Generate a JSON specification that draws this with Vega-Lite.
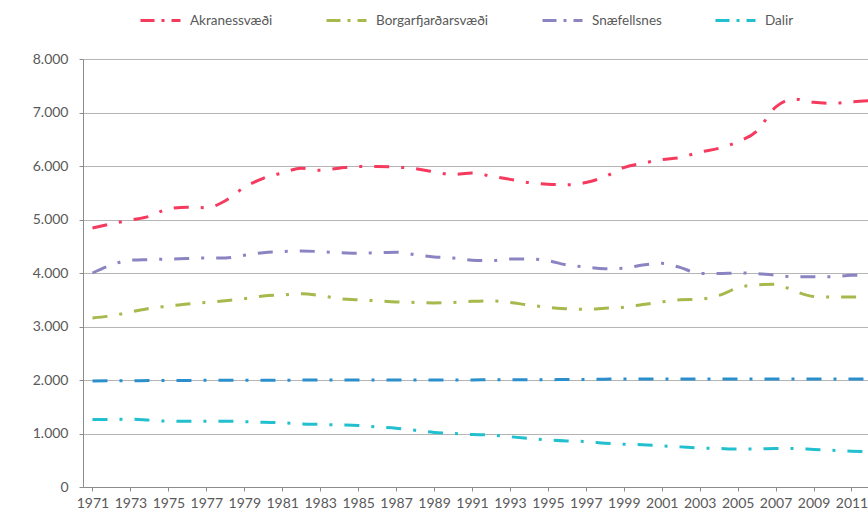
{
  "$schema": "https://vega.github.io/schema/vega-lite/v6.json",
  "width": 785,
  "height": 428,
  "autosize": "none",
  "padding": {"left": 83, "top": 59, "right": 0, "bottom": 30},
  "background": "white",
  "config": {
    "view": {"stroke": null},
    "font": "Lato",
    "axis": {"labelFont": "Lato", "labelFontSize": 14, "labelColor": "#595959", "titleFont": "Lato"},
    "legend": {"labelFont": "Lato", "labelFontSize": 13.5, "labelColor": "#595959"}
  },
  "data": {
    "values": [
      {"svaedi": "Akranessvæði", "ar": 1971, "ibuar": 4840},
      {"svaedi": "Akranessvæði", "ar": 1972, "ibuar": 4920},
      {"svaedi": "Akranessvæði", "ar": 1973, "ibuar": 4990},
      {"svaedi": "Akranessvæði", "ar": 1974, "ibuar": 5060},
      {"svaedi": "Akranessvæði", "ar": 1975, "ibuar": 5200},
      {"svaedi": "Akranessvæði", "ar": 1976, "ibuar": 5230},
      {"svaedi": "Akranessvæði", "ar": 1977, "ibuar": 5220},
      {"svaedi": "Akranessvæði", "ar": 1978, "ibuar": 5350},
      {"svaedi": "Akranessvæði", "ar": 1979, "ibuar": 5600},
      {"svaedi": "Akranessvæði", "ar": 1980, "ibuar": 5770},
      {"svaedi": "Akranessvæði", "ar": 1981, "ibuar": 5870},
      {"svaedi": "Akranessvæði", "ar": 1982, "ibuar": 5960},
      {"svaedi": "Akranessvæði", "ar": 1983, "ibuar": 5920},
      {"svaedi": "Akranessvæði", "ar": 1984, "ibuar": 5960},
      {"svaedi": "Akranessvæði", "ar": 1985, "ibuar": 5990},
      {"svaedi": "Akranessvæði", "ar": 1986, "ibuar": 5990},
      {"svaedi": "Akranessvæði", "ar": 1987, "ibuar": 5980},
      {"svaedi": "Akranessvæði", "ar": 1988, "ibuar": 5950},
      {"svaedi": "Akranessvæði", "ar": 1989, "ibuar": 5890},
      {"svaedi": "Akranessvæði", "ar": 1990, "ibuar": 5840},
      {"svaedi": "Akranessvæði", "ar": 1991, "ibuar": 5870},
      {"svaedi": "Akranessvæði", "ar": 1992, "ibuar": 5810},
      {"svaedi": "Akranessvæði", "ar": 1993, "ibuar": 5750},
      {"svaedi": "Akranessvæði", "ar": 1994, "ibuar": 5690},
      {"svaedi": "Akranessvæði", "ar": 1995, "ibuar": 5660},
      {"svaedi": "Akranessvæði", "ar": 1996, "ibuar": 5650},
      {"svaedi": "Akranessvæði", "ar": 1997, "ibuar": 5690},
      {"svaedi": "Akranessvæði", "ar": 1998, "ibuar": 5800},
      {"svaedi": "Akranessvæði", "ar": 1999, "ibuar": 5970},
      {"svaedi": "Akranessvæði", "ar": 2000, "ibuar": 6050},
      {"svaedi": "Akranessvæði", "ar": 2001, "ibuar": 6120},
      {"svaedi": "Akranessvæði", "ar": 2002, "ibuar": 6160},
      {"svaedi": "Akranessvæði", "ar": 2003, "ibuar": 6260},
      {"svaedi": "Akranessvæði", "ar": 2004, "ibuar": 6330},
      {"svaedi": "Akranessvæði", "ar": 2005, "ibuar": 6450},
      {"svaedi": "Akranessvæði", "ar": 2006, "ibuar": 6650},
      {"svaedi": "Akranessvæði", "ar": 2007, "ibuar": 7100},
      {"svaedi": "Akranessvæði", "ar": 2008, "ibuar": 7250},
      {"svaedi": "Akranessvæði", "ar": 2009, "ibuar": 7190},
      {"svaedi": "Akranessvæði", "ar": 2010, "ibuar": 7170},
      {"svaedi": "Akranessvæði", "ar": 2011, "ibuar": 7200},
      {"svaedi": "Akranessvæði", "ar": 2012, "ibuar": 7220},

      {"svaedi": "Borgarfjarðarsvæði", "ar": 1971, "ibuar": 3160},
      {"svaedi": "Borgarfjarðarsvæði", "ar": 1972, "ibuar": 3200},
      {"svaedi": "Borgarfjarðarsvæði", "ar": 1973, "ibuar": 3270},
      {"svaedi": "Borgarfjarðarsvæði", "ar": 1974, "ibuar": 3340},
      {"svaedi": "Borgarfjarðarsvæði", "ar": 1975, "ibuar": 3380},
      {"svaedi": "Borgarfjarðarsvæði", "ar": 1976, "ibuar": 3420},
      {"svaedi": "Borgarfjarðarsvæði", "ar": 1977, "ibuar": 3450},
      {"svaedi": "Borgarfjarðarsvæði", "ar": 1978, "ibuar": 3480},
      {"svaedi": "Borgarfjarðarsvæði", "ar": 1979, "ibuar": 3520},
      {"svaedi": "Borgarfjarðarsvæði", "ar": 1980, "ibuar": 3570},
      {"svaedi": "Borgarfjarðarsvæði", "ar": 1981, "ibuar": 3590},
      {"svaedi": "Borgarfjarðarsvæði", "ar": 1982, "ibuar": 3610},
      {"svaedi": "Borgarfjarðarsvæði", "ar": 1983, "ibuar": 3580},
      {"svaedi": "Borgarfjarðarsvæði", "ar": 1984, "ibuar": 3520},
      {"svaedi": "Borgarfjarðarsvæði", "ar": 1985, "ibuar": 3500},
      {"svaedi": "Borgarfjarðarsvæði", "ar": 1986, "ibuar": 3480},
      {"svaedi": "Borgarfjarðarsvæði", "ar": 1987, "ibuar": 3460},
      {"svaedi": "Borgarfjarðarsvæði", "ar": 1988, "ibuar": 3450},
      {"svaedi": "Borgarfjarðarsvæði", "ar": 1989, "ibuar": 3440},
      {"svaedi": "Borgarfjarðarsvæði", "ar": 1990, "ibuar": 3450},
      {"svaedi": "Borgarfjarðarsvæði", "ar": 1991, "ibuar": 3470},
      {"svaedi": "Borgarfjarðarsvæði", "ar": 1992, "ibuar": 3480},
      {"svaedi": "Borgarfjarðarsvæði", "ar": 1993, "ibuar": 3450},
      {"svaedi": "Borgarfjarðarsvæði", "ar": 1994, "ibuar": 3400},
      {"svaedi": "Borgarfjarðarsvæði", "ar": 1995, "ibuar": 3360},
      {"svaedi": "Borgarfjarðarsvæði", "ar": 1996, "ibuar": 3330},
      {"svaedi": "Borgarfjarðarsvæði", "ar": 1997, "ibuar": 3320},
      {"svaedi": "Borgarfjarðarsvæði", "ar": 1998, "ibuar": 3340},
      {"svaedi": "Borgarfjarðarsvæði", "ar": 1999, "ibuar": 3360},
      {"svaedi": "Borgarfjarðarsvæði", "ar": 2000, "ibuar": 3410},
      {"svaedi": "Borgarfjarðarsvæði", "ar": 2001, "ibuar": 3460},
      {"svaedi": "Borgarfjarðarsvæði", "ar": 2002, "ibuar": 3500},
      {"svaedi": "Borgarfjarðarsvæði", "ar": 2003, "ibuar": 3510},
      {"svaedi": "Borgarfjarðarsvæði", "ar": 2004, "ibuar": 3580},
      {"svaedi": "Borgarfjarðarsvæði", "ar": 2005, "ibuar": 3720},
      {"svaedi": "Borgarfjarðarsvæði", "ar": 2006, "ibuar": 3780},
      {"svaedi": "Borgarfjarðarsvæði", "ar": 2007, "ibuar": 3790},
      {"svaedi": "Borgarfjarðarsvæði", "ar": 2008, "ibuar": 3660},
      {"svaedi": "Borgarfjarðarsvæði", "ar": 2009, "ibuar": 3560},
      {"svaedi": "Borgarfjarðarsvæði", "ar": 2010, "ibuar": 3550},
      {"svaedi": "Borgarfjarðarsvæði", "ar": 2011, "ibuar": 3550},
      {"svaedi": "Borgarfjarðarsvæði", "ar": 2012, "ibuar": 3540},

      {"svaedi": "Snæfellsnes", "ar": 1971, "ibuar": 4000},
      {"svaedi": "Snæfellsnes", "ar": 1972, "ibuar": 4150},
      {"svaedi": "Snæfellsnes", "ar": 1973, "ibuar": 4240},
      {"svaedi": "Snæfellsnes", "ar": 1974, "ibuar": 4250},
      {"svaedi": "Snæfellsnes", "ar": 1975, "ibuar": 4260},
      {"svaedi": "Snæfellsnes", "ar": 1976, "ibuar": 4270},
      {"svaedi": "Snæfellsnes", "ar": 1977, "ibuar": 4280},
      {"svaedi": "Snæfellsnes", "ar": 1978, "ibuar": 4280},
      {"svaedi": "Snæfellsnes", "ar": 1979, "ibuar": 4330},
      {"svaedi": "Snæfellsnes", "ar": 1980, "ibuar": 4380},
      {"svaedi": "Snæfellsnes", "ar": 1981, "ibuar": 4400},
      {"svaedi": "Snæfellsnes", "ar": 1982, "ibuar": 4410},
      {"svaedi": "Snæfellsnes", "ar": 1983, "ibuar": 4400},
      {"svaedi": "Snæfellsnes", "ar": 1984, "ibuar": 4380},
      {"svaedi": "Snæfellsnes", "ar": 1985, "ibuar": 4370},
      {"svaedi": "Snæfellsnes", "ar": 1986, "ibuar": 4380},
      {"svaedi": "Snæfellsnes", "ar": 1987, "ibuar": 4390},
      {"svaedi": "Snæfellsnes", "ar": 1988, "ibuar": 4340},
      {"svaedi": "Snæfellsnes", "ar": 1989, "ibuar": 4300},
      {"svaedi": "Snæfellsnes", "ar": 1990, "ibuar": 4280},
      {"svaedi": "Snæfellsnes", "ar": 1991, "ibuar": 4240},
      {"svaedi": "Snæfellsnes", "ar": 1992, "ibuar": 4230},
      {"svaedi": "Snæfellsnes", "ar": 1993, "ibuar": 4260},
      {"svaedi": "Snæfellsnes", "ar": 1994, "ibuar": 4260},
      {"svaedi": "Snæfellsnes", "ar": 1995, "ibuar": 4230},
      {"svaedi": "Snæfellsnes", "ar": 1996, "ibuar": 4150},
      {"svaedi": "Snæfellsnes", "ar": 1997, "ibuar": 4110},
      {"svaedi": "Snæfellsnes", "ar": 1998, "ibuar": 4080},
      {"svaedi": "Snæfellsnes", "ar": 1999, "ibuar": 4090},
      {"svaedi": "Snæfellsnes", "ar": 2000, "ibuar": 4150},
      {"svaedi": "Snæfellsnes", "ar": 2001, "ibuar": 4180},
      {"svaedi": "Snæfellsnes", "ar": 2002, "ibuar": 4100},
      {"svaedi": "Snæfellsnes", "ar": 2003, "ibuar": 3990},
      {"svaedi": "Snæfellsnes", "ar": 2004, "ibuar": 3990},
      {"svaedi": "Snæfellsnes", "ar": 2005, "ibuar": 4000},
      {"svaedi": "Snæfellsnes", "ar": 2006, "ibuar": 3990},
      {"svaedi": "Snæfellsnes", "ar": 2007, "ibuar": 3960},
      {"svaedi": "Snæfellsnes", "ar": 2008, "ibuar": 3930},
      {"svaedi": "Snæfellsnes", "ar": 2009, "ibuar": 3930},
      {"svaedi": "Snæfellsnes", "ar": 2010, "ibuar": 3930},
      {"svaedi": "Snæfellsnes", "ar": 2011, "ibuar": 3960},
      {"svaedi": "Snæfellsnes", "ar": 2012, "ibuar": 3960},

      {"svaedi": "Annað", "ar": 1971, "ibuar": 1980},
      {"svaedi": "Annað", "ar": 1972, "ibuar": 1985},
      {"svaedi": "Annað", "ar": 1973, "ibuar": 1985},
      {"svaedi": "Annað", "ar": 1974, "ibuar": 1990},
      {"svaedi": "Annað", "ar": 1975, "ibuar": 1990},
      {"svaedi": "Annað", "ar": 1976, "ibuar": 1990},
      {"svaedi": "Annað", "ar": 1977, "ibuar": 1995},
      {"svaedi": "Annað", "ar": 1978, "ibuar": 1995},
      {"svaedi": "Annað", "ar": 1979, "ibuar": 1995},
      {"svaedi": "Annað", "ar": 1980, "ibuar": 1995},
      {"svaedi": "Annað", "ar": 1981, "ibuar": 1995},
      {"svaedi": "Annað", "ar": 1982, "ibuar": 2000},
      {"svaedi": "Annað", "ar": 1983, "ibuar": 2000},
      {"svaedi": "Annað", "ar": 1984, "ibuar": 2000},
      {"svaedi": "Annað", "ar": 1985, "ibuar": 2000},
      {"svaedi": "Annað", "ar": 1986, "ibuar": 2000},
      {"svaedi": "Annað", "ar": 1987, "ibuar": 2000},
      {"svaedi": "Annað", "ar": 1988, "ibuar": 2000},
      {"svaedi": "Annað", "ar": 1989, "ibuar": 2000},
      {"svaedi": "Annað", "ar": 1990, "ibuar": 2000},
      {"svaedi": "Annað", "ar": 1991, "ibuar": 2000},
      {"svaedi": "Annað", "ar": 1992, "ibuar": 2005},
      {"svaedi": "Annað", "ar": 1993, "ibuar": 2005},
      {"svaedi": "Annað", "ar": 1994, "ibuar": 2005},
      {"svaedi": "Annað", "ar": 1995, "ibuar": 2005},
      {"svaedi": "Annað", "ar": 1996, "ibuar": 2010},
      {"svaedi": "Annað", "ar": 1997, "ibuar": 2010},
      {"svaedi": "Annað", "ar": 1998, "ibuar": 2015},
      {"svaedi": "Annað", "ar": 1999, "ibuar": 2020},
      {"svaedi": "Annað", "ar": 2000, "ibuar": 2020},
      {"svaedi": "Annað", "ar": 2001, "ibuar": 2020},
      {"svaedi": "Annað", "ar": 2002, "ibuar": 2020},
      {"svaedi": "Annað", "ar": 2003, "ibuar": 2020},
      {"svaedi": "Annað", "ar": 2004, "ibuar": 2020},
      {"svaedi": "Annað", "ar": 2005, "ibuar": 2020},
      {"svaedi": "Annað", "ar": 2006, "ibuar": 2020},
      {"svaedi": "Annað", "ar": 2007, "ibuar": 2020},
      {"svaedi": "Annað", "ar": 2008, "ibuar": 2020},
      {"svaedi": "Annað", "ar": 2009, "ibuar": 2020},
      {"svaedi": "Annað", "ar": 2010, "ibuar": 2020},
      {"svaedi": "Annað", "ar": 2011, "ibuar": 2020},
      {"svaedi": "Annað", "ar": 2012, "ibuar": 2020},

      {"svaedi": "Dalir", "ar": 1971, "ibuar": 1260},
      {"svaedi": "Dalir", "ar": 1972, "ibuar": 1260},
      {"svaedi": "Dalir", "ar": 1973, "ibuar": 1270},
      {"svaedi": "Dalir", "ar": 1974, "ibuar": 1250},
      {"svaedi": "Dalir", "ar": 1975, "ibuar": 1230},
      {"svaedi": "Dalir", "ar": 1976, "ibuar": 1230},
      {"svaedi": "Dalir", "ar": 1977, "ibuar": 1230},
      {"svaedi": "Dalir", "ar": 1978, "ibuar": 1230},
      {"svaedi": "Dalir", "ar": 1979, "ibuar": 1220},
      {"svaedi": "Dalir", "ar": 1980, "ibuar": 1210},
      {"svaedi": "Dalir", "ar": 1981, "ibuar": 1200},
      {"svaedi": "Dalir", "ar": 1982, "ibuar": 1180},
      {"svaedi": "Dalir", "ar": 1983, "ibuar": 1170},
      {"svaedi": "Dalir", "ar": 1984, "ibuar": 1160},
      {"svaedi": "Dalir", "ar": 1985, "ibuar": 1150},
      {"svaedi": "Dalir", "ar": 1986, "ibuar": 1120},
      {"svaedi": "Dalir", "ar": 1987, "ibuar": 1100},
      {"svaedi": "Dalir", "ar": 1988, "ibuar": 1060},
      {"svaedi": "Dalir", "ar": 1989, "ibuar": 1020},
      {"svaedi": "Dalir", "ar": 1990, "ibuar": 1000},
      {"svaedi": "Dalir", "ar": 1991, "ibuar": 980},
      {"svaedi": "Dalir", "ar": 1992, "ibuar": 970},
      {"svaedi": "Dalir", "ar": 1993, "ibuar": 940},
      {"svaedi": "Dalir", "ar": 1994, "ibuar": 910},
      {"svaedi": "Dalir", "ar": 1995, "ibuar": 880},
      {"svaedi": "Dalir", "ar": 1996, "ibuar": 860},
      {"svaedi": "Dalir", "ar": 1997, "ibuar": 850},
      {"svaedi": "Dalir", "ar": 1998, "ibuar": 820},
      {"svaedi": "Dalir", "ar": 1999, "ibuar": 800},
      {"svaedi": "Dalir", "ar": 2000, "ibuar": 790},
      {"svaedi": "Dalir", "ar": 2001, "ibuar": 770},
      {"svaedi": "Dalir", "ar": 2002, "ibuar": 750},
      {"svaedi": "Dalir", "ar": 2003, "ibuar": 730},
      {"svaedi": "Dalir", "ar": 2004, "ibuar": 720},
      {"svaedi": "Dalir", "ar": 2005, "ibuar": 710},
      {"svaedi": "Dalir", "ar": 2006, "ibuar": 710},
      {"svaedi": "Dalir", "ar": 2007, "ibuar": 720},
      {"svaedi": "Dalir", "ar": 2008, "ibuar": 720},
      {"svaedi": "Dalir", "ar": 2009, "ibuar": 700},
      {"svaedi": "Dalir", "ar": 2010, "ibuar": 685},
      {"svaedi": "Dalir", "ar": 2011, "ibuar": 670},
      {"svaedi": "Dalir", "ar": 2012, "ibuar": 660}
    ]
  },
  "mark": {
    "type": "line",
    "interpolate": "monotone",
    "strokeWidth": 3,
    "strokeDash": [15, 12, 3, 12],
    "clip": true
  },
  "encoding": {
    "x": {
      "field": "ar",
      "type": "quantitative",
      "scale": {"domain": [1970.5, 2011.87], "nice": false, "zero": false},
      "axis": {
        "title": null,
        "values": [1971, 1973, 1975, 1977, 1979, 1981, 1983, 1985, 1987, 1989, 1991, 1993, 1995, 1997, 1999, 2001, 2003, 2005, 2007, 2009, 2011],
        "format": "d",
        "grid": false,
        "domainColor": "#8c8c8c",
        "tickColor": "#8c8c8c",
        "tickSize": 4,
        "labelPadding": 5,
        "labelOverlap": false,
        "labelFlush": false
      }
    },
    "y": {
      "field": "ibuar",
      "type": "quantitative",
      "scale": {"domain": [0, 8000], "nice": false},
      "axis": {
        "title": null,
        "values": [0, 1000, 2000, 3000, 4000, 5000, 6000, 7000, 8000],
        "labelExpr": "replace(format(datum.value, ','), ',', '.')",
        "grid": true,
        "gridColor": "#b5b5b5",
        "gridWidth": 1.2,
        "domainColor": "#8c8c8c",
        "tickColor": "#8c8c8c",
        "tickSize": 4,
        "labelPadding": 11
      }
    },
    "color": {
      "field": "svaedi",
      "type": "nominal",
      "scale": {
        "domain": ["Akranessvæði", "Borgarfjarðarsvæði", "Snæfellsnes", "Dalir", "Annað"],
        "range": ["#f53a5e", "#a5b94c", "#8b84c2", "#22c0cf", "#2a8fcc"]
      },
      "legend": {
        "title": null,
        "values": ["Akranessvæði", "Borgarfjarðarsvæði", "Snæfellsnes", "Dalir"],
        "orient": "none",
        "legendX": 56,
        "legendY": -60,
        "direction": "horizontal",
        "columns": 4,
        "columnPadding": 47,
        "symbolType": "stroke",
        "symbolSize": 1600,
        "symbolStrokeWidth": 3,
        "symbolDash": [14, 7, 3, 7],
        "labelOffset": 8
      }
    }
  }
}
